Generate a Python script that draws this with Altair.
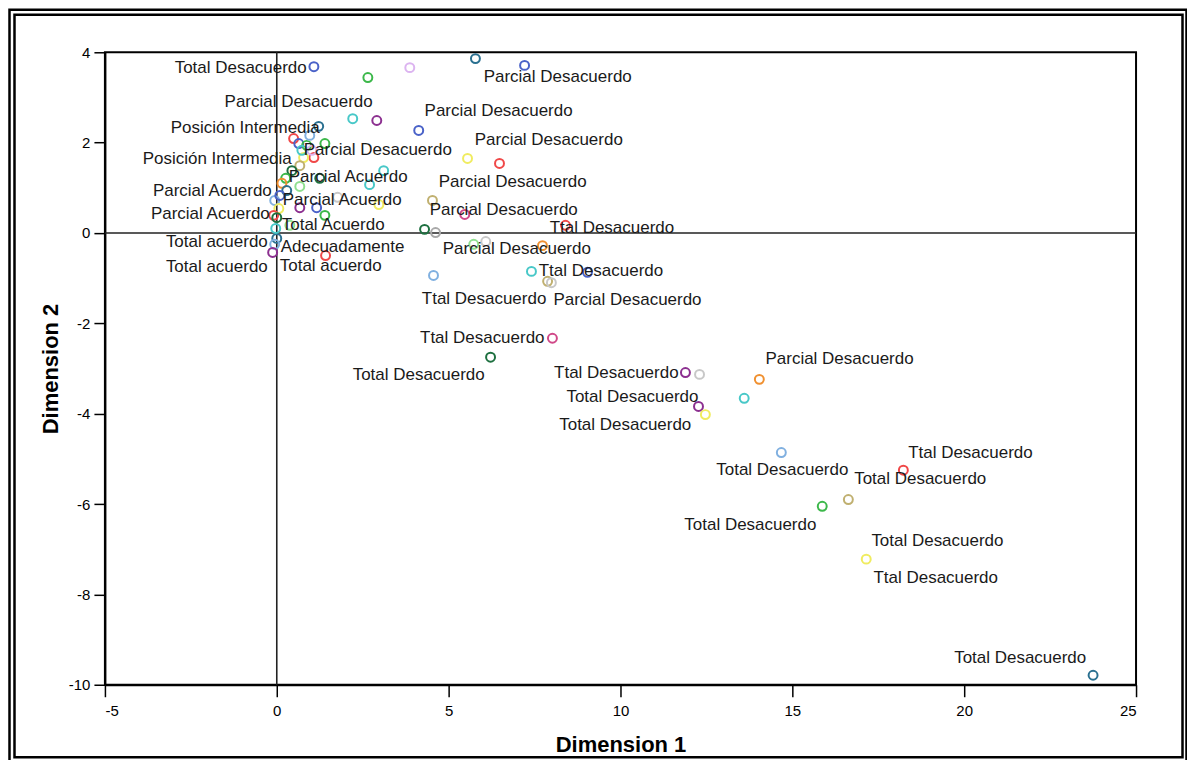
import altair as alt
import pandas as pd

# ---- point data (Dimension 1, Dimension 2, colour) ----
px = [1.08, 2.65, 3.87, 5.78, 7.21, 2.21, 2.91, 4.13, 5.55, 6.48, 3.11, 2.70, 2.97, 1.77,
      4.53, 5.47, 4.30, 4.62, 8.40, 5.73, 6.08, 7.73, 7.41, 9.04, 7.88, 7.99, 4.56, 8.02,
      6.22, 11.89, 12.30, 14.04, 13.60, 12.27, 12.47, 14.68, 18.23, 16.63, 15.87, 17.15,
      23.75, 1.22, 0.49, 0.64, 0.87, 1.40, 1.08, 0.78, 1.02, 0.67, 0.44, 1.25, 0.26, 0.67,
      0.15, 0.29, -0.06, 0.67, 1.16, 0.06, -0.09, 0.00, 1.40, 0.38, 0.00, -0.06, -0.12,
      1.42, -0.03, 0.09, 0.96, 0.73]
py = [3.68, 3.44, 3.66, 3.86, 3.71, 2.53, 2.49, 2.27, 1.65, 1.54, 1.38, 1.07, 0.63, 0.79,
      0.72, 0.41, 0.08, 0.01, 0.17, -0.25, -0.19, -0.28, -0.85, -0.87, -1.07, -1.10, -0.94,
      -2.33, -2.75, -3.09, -3.13, -3.24, -3.66, -3.84, -4.02, -4.86, -5.25, -5.90, -6.05,
      -7.22, -9.79, 2.36, 2.09, 1.98, 1.94, 1.98, 1.67, 1.67, 1.83, 1.49, 1.38, 1.21, 1.21,
      1.03, 1.10, 0.94, 0.72, 0.56, 0.56, 0.54, 0.39, 0.34, 0.39, 0.17, -0.12, -0.25, -0.43,
      -0.50, 0.10, 0.83, 2.16, 1.83]
pc = ["#4a62c8", "#3cb84a", "#dcb4f0", "#2a7090", "#4a62c8", "#48c8c8", "#8c3090", "#4a62c8",
      "#f0ec60", "#f04848", "#48c8c8", "#48c8c8", "#f0ec60", "#c8c8c8", "#c0b070", "#d04888",
      "#1e7040", "#a8a8a8", "#f04848", "#90e090", "#c8c8c8", "#f09030", "#48c8c8", "#4a62c8",
      "#c0b070", "#c8c8c8", "#80b0e0", "#d04888", "#1e7040", "#8c3090", "#c8c8c8", "#f09030",
      "#48c8c8", "#8c3090", "#f0ec60", "#80b0e0", "#f04848", "#c0b070", "#3cb84a", "#f0ec60",
      "#2a7090", "#2a7090", "#f04848", "#4a62c8", "#3cb84a", "#3cb84a", "#f04848", "#f0ec60",
      "#dcb4f0", "#c0b070", "#1e7040", "#1e7040", "#3cb84a", "#90e090", "#f09030", "#2a7090",
      "#80b0e0", "#8c3090", "#4a62c8", "#f0ec60", "#f04848", "#1e7040", "#3cb84a", "#90e090",
      "#2a7090", "#80b0e0", "#8c3090", "#f04848", "#48c8c8", "#4a62c8", "#80b0e0", "#48c8c8"]

# ---- labels drawn to the left of their point (right-aligned) ----
lr_text = ["Total Desacuerdo", "Parcial Desacuerdo", "Posición Intermedia", "Posición Intermedia",
           "Parcial Acuerdo", "Parcial Acuerdo", "Total acuerdo", "Total acuerdo",
           "Ttal Desacuerdo", "Total Desacuerdo", "Ttal Desacuerdo", "Total Desacuerdo",
           "Total Desacuerdo", "Total Desacuerdo", "Total Desacuerdo", "Total Desacuerdo"]
lr_x = [0.872, 2.79, 1.25, 0.436, -0.145, -0.203, -0.262, -0.262, 7.79, 6.05, 11.69, 12.27,
        12.06, 16.63, 15.70, 23.55]
lr_y = [3.66, 2.91, 2.33, 1.63, 0.94, 0.41, -0.21, -0.76, -2.33, -3.15, -3.09, -3.62,
        -4.24, -5.25, -6.47, -9.41]

# ---- labels drawn to the right (left-aligned) ----
ll_text = ["Parcial Desacuerdo", "Parcial Desacuerdo", "Parcial Desacuerdo", "Parcial Desacuerdo",
           "Parcial Desacuerdo", "Parcial Acuerdo", "Parcial Acuerdo", "Parcial Desacuerdo",
           "Total Acuerdo", "Ttal Desacuerdo", "Adecuadamente", "Parcial Desacuerdo",
           "Total acuerdo", "Ttal Desacuerdo", "Ttal Desacuerdo", "Parcial Desacuerdo",
           "Parcial Desacuerdo", "Ttal Desacuerdo", "Total Desacuerdo", "Total Desacuerdo",
           "Ttal Desacuerdo"]
ll_x = [6.02, 4.30, 5.76, 0.785, 4.71, 0.349, 0.174, 4.45, 0.145, 7.94, 0.116, 4.83, 0.087,
        7.62, 4.22, 8.05, 14.22, 18.37, 16.80, 17.30, 17.36]
ll_y = [3.46, 2.69, 2.05, 1.83, 1.12, 1.25, 0.74, 0.50, 0.17, 0.10, -0.30, -0.36, -0.74,
        -0.85, -1.47, -1.49, -2.80, -4.86, -5.45, -6.82, -7.64]

x_ticks = [-5, 0, 5, 10, 15, 20, 25]
y_ticks = [-10, -8, -6, -4, -2, 0, 2, 4]

FONT = "Liberation Sans Narrow, Arial Narrow, Liberation Sans, Arial, sans-serif"

pts = pd.DataFrame({"x": px, "y": py, "c": pc})
lab_r = pd.DataFrame({"x": lr_x, "y": lr_y, "t": lr_text})
lab_l = pd.DataFrame({"x": ll_x, "y": ll_y, "t": ll_text})

xs = alt.Scale(domain=[-5, 25], nice=False, zero=False)
ys = alt.Scale(domain=[-10, 4], nice=False, zero=False)

xax = alt.Axis(values=x_ticks, title="Dimension 1", grid=False, tickSize=12,
               labelPadding=7, titlePadding=16, labelFontSize=15, titleFontSize=22,
               titleFontWeight="bold", labelFont=FONT, titleFont=FONT,
               labelExpr="toString(datum.value)")
yax = alt.Axis(values=y_ticks, title="Dimension 2", grid=False, tickSize=11,
               labelPadding=4, titlePadding=6, labelFontSize=15, titleFontSize=22,
               titleFontWeight="bold", labelFont=FONT, titleFont=FONT,
               labelExpr="toString(datum.value)")

base_pts = alt.Chart(pts).mark_point(shape="circle", filled=False, size=80, strokeWidth=2,
                                     opacity=1).encode(
    x=alt.X("x:Q", scale=xs, axis=xax),
    y=alt.Y("y:Q", scale=ys, axis=yax),
    color=alt.Color("c:N", scale=None),
)

vrule = alt.Chart(pd.DataFrame({"v": [0]})).mark_rule(color="#222222", strokeWidth=1.6).encode(
    x=alt.X("v:Q", scale=xs))
hrule = alt.Chart(pd.DataFrame({"v": [0]})).mark_rule(color="#222222", strokeWidth=1.6).encode(
    y=alt.Y("v:Q", scale=ys))

txt_r = alt.Chart(lab_r).mark_text(align="right", baseline="middle", font=FONT, fontSize=17,
                                   color="#1a1a1a").encode(
    x=alt.X("x:Q", scale=xs), y=alt.Y("y:Q", scale=ys), text="t:N")
txt_l = alt.Chart(lab_l).mark_text(align="left", baseline="middle", font=FONT, fontSize=17,
                                   color="#1a1a1a").encode(
    x=alt.X("x:Q", scale=xs), y=alt.Y("y:Q", scale=ys), text="t:N")

# decorative double frame around the figure
frame_outer = alt.Chart(pd.DataFrame({"a": [0]})).mark_rect(
    fill=None, stroke="black", strokeWidth=2.5).encode(
    x=alt.value(-95.5), x2=alt.value(1082.5), y=alt.value(-42.5), y2=alt.value(712))
frame_inner = alt.Chart(pd.DataFrame({"a": [0]})).mark_rect(
    fill=None, stroke="black", strokeWidth=2.5).encode(
    x=alt.value(-90.5), x2=alt.value(1078.5), y=alt.value(-37.5), y2=alt.value(705.5))

chart = alt.layer(vrule, hrule, base_pts, txt_r, txt_l, frame_outer, frame_inner).properties(
    width=1032, height=633,
    autosize=alt.AutoSizeParams(type="none"),
    padding={"left": 97, "top": 44, "right": 51, "bottom": 75},
    background="white",
).configure_view(stroke="black", strokeWidth=2).configure_axis(
    domainColor="black", domainWidth=2, tickColor="black", tickWidth=1.5,
    labelColor="black", titleColor="black",
)

chart.save("out.html", embed_options={"renderer": "svg", "actions": False})
